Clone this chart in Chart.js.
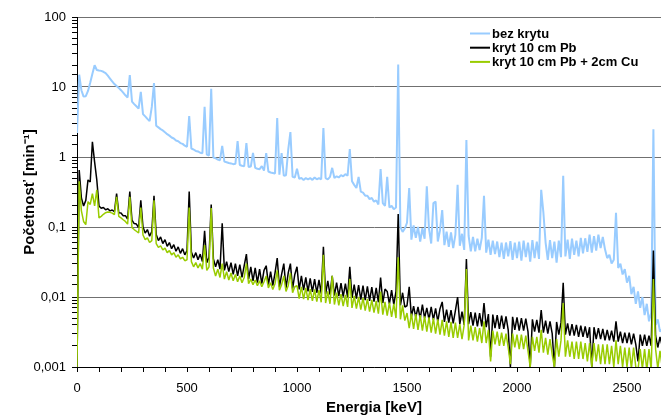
<!DOCTYPE html>
<html>
<head>
<meta charset="utf-8">
<script src="https://cdn.jsdelivr.net/npm/chart.js@4/dist/chart.umd.min.js"></script>
<style>
  html, body { margin: 0; padding: 0; background: #fff; overflow: hidden; }
  canvas { display: block; }
</style>
</head>
<body>
<!-- plot runs a little past the window edge, as in the original cut-out -->
<canvas id="chart" width="671" height="417"></canvas>
<script>
// spectrum channels, 10 keV each
const kevPerChannel = 10;
const seriesNames = ["bez krytu", "kryt 10 cm Pb", "kryt 10 cm Pb + 2cm Cu"];
const seriesColors = ["#99ccff", "#000000", "#99cc00"];

// početnosť [min-1], one line = 100 keV
const bezKrytu = [
  2.2, 15, 9, 7.3, 7.4, 8.8, 11.5, 15.5, 20.5, 17.5,
  17.2, 17, 16.5, 15.8, 14.5, 13.2, 12, 11, 10.3, 9.7,
  9, 8.3, 7.6, 7.1, 14.8, 6.2, 5.7, 5.3, 4.9, 8.5,
  4.1, 3.8, 3.5, 3.25, 5.2, 11.4, 2.8, 2.65, 2.5, 2.4,
  2.25, 2.12, 2.02, 1.9, 1.84, 1.72, 1.68, 1.58, 1.54, 1.45,
  1.4, 3.85, 1.32, 1.28, 1.22, 1.2, 1.15, 1.13, 5.2, 1.08,
  1.05, 9.4, 0.98, 0.96, 0.92, 0.9, 1.44, 0.86, 0.84, 0.82,
  0.81, 0.79, 0.8, 1.69, 0.77, 0.75, 0.74, 1.58, 0.72, 0.73,
  1.14, 0.7, 0.68, 0.67, 0.74, 0.64, 1.14, 0.62, 0.6, 0.59,
  0.58, 3.6, 0.56, 1.14, 0.54, 0.55, 1.26, 2.27, 0.52, 0.51,
  0.68, 0.49, 0.5, 0.47, 0.5, 0.48, 0.5, 0.47, 0.51, 0.48,
  0.5, 0.48, 2.6, 0.5, 0.48, 0.52, 0.7, 0.5, 0.53, 0.51,
  0.55, 0.53, 0.57, 0.54, 1.3, 0.45, 0.4, 0.36, 0.52, 0.32,
  0.31, 0.28, 0.28, 0.25, 0.26, 0.23, 0.24, 0.21, 0.67, 0.22,
  0.2, 0.52, 0.19, 0.2, 0.18, 0.19, 21, 0.1, 0.085, 0.095,
  0.115, 0.36, 0.066, 0.105, 0.07, 0.1, 0.062, 0.096, 0.068, 0.38,
  0.095, 0.058, 0.22, 0.23, 0.062, 0.09, 0.175, 0.055, 0.086, 0.052,
  0.084, 0.05, 0.078, 0.4, 0.054, 0.08, 0.047, 1.75, 0.075, 0.045,
  0.072, 0.045, 0.068, 0.047, 0.07, 0.28, 0.043, 0.066, 0.04, 0.064,
  0.041, 0.062, 0.037, 0.06, 0.035, 0.06, 0.038, 0.063, 0.034, 0.06,
  0.036, 0.062, 0.033, 0.064, 0.037, 0.06, 0.032, 0.065, 0.036, 0.062,
  0.035, 0.34, 0.16, 0.06, 0.034, 0.065, 0.036, 0.062, 0.031, 0.064,
  0.037, 0.54, 0.038, 0.066, 0.035, 0.068, 0.04, 0.064, 0.038, 0.07,
  0.042, 0.069, 0.044, 0.078, 0.043, 0.074, 0.046, 0.078, 0.05, 0.072,
  0.048, 0.036, 0.04, 0.03, 0.034, 0.16, 0.026, 0.03, 0.021, 0.025,
  0.016, 0.02, 0.011, 0.014, 0.008, 0.012, 0.007, 0.01, 0.0055, 0.008,
  0.0045, 0.006, 2.5, 0.004, 0.0048, 0.0032, 0.0035, 0.0028
];

const krytPb = [
  0.001, 0.65, 0.26, 0.2, 0.24, 0.47, 0.44, 1.65, 0.85, 0.47,
  0.2, 0.185, 0.19, 0.176, 0.182, 0.17, 0.175, 0.165, 0.3, 0.16,
  0.158, 0.145, 0.145, 0.13, 0.32, 0.125, 0.112, 0.11, 0.098, 0.24,
  0.1, 0.082, 0.092, 0.074, 0.086, 0.28, 0.078, 0.064, 0.072, 0.058,
  0.066, 0.053, 0.06, 0.049, 0.056, 0.045, 0.052, 0.042, 0.049, 0.04,
  0.046, 0.32, 0.044, 0.036, 0.043, 0.034, 0.041, 0.032, 0.088, 0.031,
  0.037, 0.21, 0.035, 0.027, 0.034, 0.025, 0.113, 0.024, 0.032, 0.023,
  0.031, 0.021, 0.03, 0.02, 0.029, 0.019, 0.028, 0.041, 0.018, 0.027,
  0.017, 0.026, 0.016, 0.025, 0.0155, 0.024, 0.028, 0.015, 0.023, 0.0145,
  0.022, 0.036, 0.014, 0.021, 0.03, 0.0135, 0.022, 0.03, 0.0132, 0.021,
  0.027, 0.0128, 0.02, 0.0125, 0.019, 0.012, 0.0185, 0.0118, 0.018, 0.0115,
  0.0175, 0.0112, 0.052, 0.011, 0.017, 0.0108, 0.02, 0.0105, 0.016, 0.0103,
  0.0158, 0.0101, 0.0155, 0.0099, 0.027, 0.0097, 0.015, 0.0095, 0.0148, 0.0092,
  0.0145, 0.009, 0.0142, 0.0088, 0.0138, 0.0086, 0.0135, 0.0084, 0.019, 0.0082,
  0.013, 0.012, 0.008, 0.0125, 0.0078, 0.012, 0.153, 0.0076, 0.0115, 0.0072,
  0.0075, 0.014, 0.0052, 0.0074, 0.0051, 0.0072, 0.0049, 0.0078, 0.005, 0.007,
  0.0048, 0.0072, 0.0047, 0.0069, 0.0045, 0.0068, 0.0085, 0.0044, 0.0066, 0.0043,
  0.0065, 0.0042, 0.0064, 0.01, 0.0041, 0.0062, 0.004, 0.035, 0.0041, 0.0061,
  0.0039, 0.006, 0.0038, 0.0059, 0.0038, 0.0082, 0.0037, 0.0057, 0.0014, 0.0056,
  0.0036, 0.0055, 0.0035, 0.0054, 0.0035, 0.0053, 0.0034, 0.001, 0.0052, 0.0034,
  0.0051, 0.0033, 0.005, 0.0033, 0.0049, 0.0032, 0.001, 0.0048, 0.0032, 0.0047,
  0.0031, 0.0065, 0.0031, 0.0046, 0.003, 0.0045, 0.003, 0.001, 0.0044, 0.0029,
  0.0043, 0.016, 0.0029, 0.0042, 0.0028, 0.0041, 0.0028, 0.004, 0.0027, 0.0039,
  0.0027, 0.0038, 0.0026, 0.0037, 0.001, 0.0037, 0.0025, 0.0036, 0.0025, 0.0035,
  0.0024, 0.0034, 0.0024, 0.0033, 0.0023, 0.0045, 0.0023, 0.0032, 0.0022, 0.0031,
  0.0022, 0.0031, 0.0021, 0.003, 0.0021, 0.0012, 0.0029, 0.002, 0.0029, 0.002,
  0.0028, 0.002, 0.046, 0.0028, 0.0019, 0.0027, 0.002, 0.0026
];

const krytPbCu = [
  0.001, 0.45, 0.17, 0.12, 0.108, 0.23, 0.21, 0.3, 0.2, 0.34,
  0.135, 0.142, 0.152, 0.16, 0.164, 0.162, 0.158, 0.15, 0.27, 0.142,
  0.135, 0.127, 0.12, 0.11, 0.27, 0.098, 0.092, 0.087, 0.082, 0.19,
  0.077, 0.066, 0.07, 0.06, 0.064, 0.24, 0.058, 0.051, 0.054, 0.047,
  0.05, 0.043, 0.046, 0.04, 0.043, 0.037, 0.04, 0.035, 0.037, 0.033,
  0.034, 0.19, 0.032, 0.027, 0.031, 0.026, 0.03, 0.025, 0.055, 0.024,
  0.027, 0.187, 0.026, 0.02, 0.025, 0.019, 0.03, 0.018, 0.023, 0.0175,
  0.022, 0.017, 0.021, 0.0165, 0.02, 0.016, 0.019, 0.03, 0.0155, 0.018,
  0.015, 0.0175, 0.0145, 0.017, 0.014, 0.0165, 0.02, 0.0135, 0.016, 0.0128,
  0.0155, 0.024, 0.0125, 0.015, 0.02, 0.012, 0.0145, 0.022, 0.0115, 0.014,
  0.0145, 0.0095, 0.014, 0.0093, 0.0135, 0.009, 0.013, 0.0088, 0.0128, 0.0086,
  0.0125, 0.0084, 0.04, 0.0082, 0.012, 0.008, 0.02, 0.0078, 0.0115, 0.0076,
  0.011, 0.0074, 0.0107, 0.0072, 0.018, 0.007, 0.0104, 0.0068, 0.01, 0.0066,
  0.0097, 0.0064, 0.0094, 0.0062, 0.0091, 0.006, 0.0088, 0.0058, 0.012, 0.0056,
  0.0085, 0.0054, 0.0083, 0.0052, 0.008, 0.005, 0.037, 0.0048, 0.0076, 0.0046,
  0.0059, 0.0036, 0.0058, 0.0035, 0.0057, 0.0034, 0.0055, 0.0033, 0.0053, 0.0032,
  0.0051, 0.0031, 0.005, 0.003, 0.0048, 0.0029, 0.0047, 0.0028, 0.0045, 0.0027,
  0.0044, 0.0026, 0.0043, 0.0026, 0.0041, 0.0025, 0.004, 0.025, 0.0024, 0.0039,
  0.0024, 0.0037, 0.0023, 0.0036, 0.0022, 0.0045, 0.0022, 0.0034, 0.0012, 0.0033,
  0.0021, 0.0032, 0.002, 0.0031, 0.002, 0.003, 0.0019, 0.0011, 0.003, 0.0019,
  0.0029, 0.0018, 0.0029, 0.0018, 0.0028, 0.0017, 0.001, 0.0027, 0.0017, 0.0027,
  0.0016, 0.0034, 0.0016, 0.0026, 0.0015, 0.0025, 0.0015, 0.001, 0.0025, 0.0014,
  0.0024, 0.0082, 0.0014, 0.0024, 0.0014, 0.0023, 0.0013, 0.0023, 0.0013, 0.0023,
  0.0013, 0.0022, 0.0012, 0.0022, 0.001, 0.0022, 0.0012, 0.0021, 0.0011, 0.0021,
  0.0011, 0.0021, 0.0011, 0.002, 0.001, 0.0024, 0.0011, 0.002, 0.001, 0.0019,
  0.001, 0.0019, 0.00095, 0.0019, 0.001, 0.0009, 0.0018, 0.00095, 0.0018, 0.0009,
  0.0018, 0.0009, 0.018, 0.0018, 0.00095, 0.0017, 0.001, 0.0016
];

const toPoints = (vals) => vals.map((v, i) => ({ x: i * kevPerChannel, y: v }));
const isDecade = (v) => Math.abs(Math.log10(v) - Math.round(Math.log10(v))) < 1e-6;

Chart.defaults.font.family = "'Liberation Sans', Arial, sans-serif";
Chart.defaults.color = "#000";

// legend drawn inside the plot, top right
const insideLegend = {
  id: "insideLegend",
  afterDraw(chart) {
    const ctx = chart.ctx;
    ctx.save();
    ctx.font = "bold 13px 'Liberation Sans', Arial, sans-serif";
    ctx.textBaseline = "middle";
    ctx.fillStyle = "#000";
    chart.data.datasets.forEach((ds, i) => {
      const y = 33.5 + i * 14.2;
      ctx.strokeStyle = ds.borderColor;
      ctx.lineWidth = 2;
      ctx.beginPath();
      ctx.moveTo(470, y);
      ctx.lineTo(490, y);
      ctx.stroke();
      ctx.fillText(ds.label, 492, y + 0.5);
    });
    ctx.restore();
  }
};

new Chart(document.getElementById("chart"), {
  type: "line",
  data: {
    datasets: [
      { label: seriesNames[0], data: toPoints(bezKrytu), borderColor: seriesColors[0], borderWidth: 2, order: 2 },
      { label: seriesNames[1], data: toPoints(krytPb), borderColor: seriesColors[1], borderWidth: 1.5, order: 1 },
      { label: seriesNames[2], data: toPoints(krytPbCu), borderColor: seriesColors[2], borderWidth: 1.5, order: 0 }
    ]
  },
  options: {
    responsive: false,
    animation: false,
    layout: { padding: { top: 17, right: 0, left: 0, bottom: 0 } },
    elements: {
      point: { radius: 0 },
      line: { tension: 0, borderJoinStyle: "bevel", fill: false }
    },
    plugins: { legend: { display: false }, tooltip: { enabled: false } },
    scales: {
      x: {
        type: "linear",
        min: 0,
        max: 2700,
        ticks: {
          stepSize: 100,
          autoSkip: false,
          maxRotation: 0,
          padding: 9,
          font: { size: 13 },
          callback: (v) => (v % 500 === 0 ? String(v) : "")
        },
        grid: { drawOnChartArea: false, drawTicks: true, tickLength: 5, tickColor: "#000" },
        border: { color: "#000", width: 1 },
        title: {
          display: true,
          text: "Energia [keV]",
          font: { size: 15, weight: "bold" },
          padding: { top: 0, bottom: 0 }
        },
        afterFit: (s) => {
          s.height = 50;
          s.paddingLeft = 0;
          s.paddingRight = 0;
        }
      },
      y: {
        type: "logarithmic",
        min: 0.001,
        max: 100,
        ticks: {
          autoSkip: false,
          padding: 6,
          font: { size: 13 },
          callback: (v) => (isDecade(v) ? String(v).replace(".", ",") : "")
        },
        grid: {
          color: (c) => (c.tick && isDecade(c.tick.value) ? "#707070" : "rgba(0,0,0,0)"),
          lineWidth: 1,
          tickColor: "#000",
          tickLength: 5
        },
        border: { color: "#000", width: 1 },
        title: {
          display: true,
          text: "Početnosť [min⁻¹]",
          font: { size: 15, weight: "bold" },
          padding: { top: 21, bottom: 0 }
        },
        afterFit: (s) => { s.width = 77; }
      }
    }
  },
  plugins: [insideLegend]
});
</script>
</body>
</html>
